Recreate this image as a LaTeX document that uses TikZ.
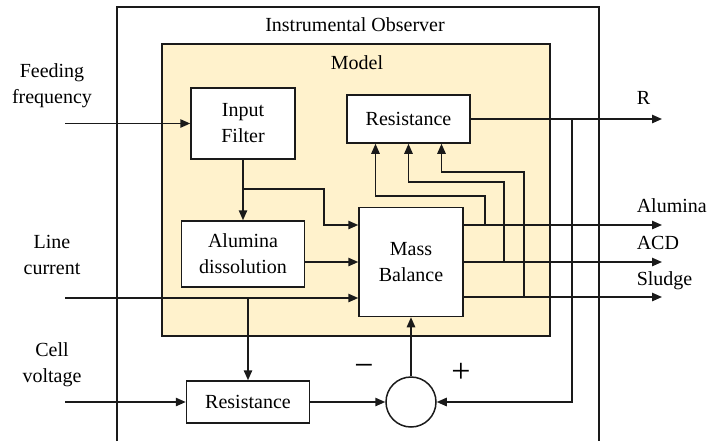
\documentclass[tikz,border=0pt]{standalone}
\usepackage{fontspec}
\setmainfont{Liberation Serif}
\usepackage{xcolor}
\definecolor{modelcream}{HTML}{FFF2CC}
\definecolor{frameink}{HTML}{1A1A1A}
\usetikzlibrary{positioning,arrows.meta,calc}

\begin{document}
\begin{tikzpicture}[x=0.5pt,y=-0.5pt,
    font=\fontsize{10}{13}\selectfont,
    line width=0.75pt, draw=frameink,
    blk/.style={draw=frameink, fill=white, align=center, inner sep=0pt},
    arr/.style={-{Triangle[length=5pt,width=4.2pt]}},
    lbl/.style={align=center, inner sep=0pt},
    sig/.style={font=\fontsize{17}{17}\selectfont, inner sep=0pt}]
    \useasboundingbox (0,0) rectangle (708,441);
    % frames
    \draw (117,441) -- (117,7) -- (599,7) -- (599,441);
    \filldraw[fill=modelcream] (162,44) rectangle (550,336);
    \node[lbl] (obs) at (355,25) {Instrumental Observer};
    \node[lbl] (mdl) at (357,63) {Model};
    % blocks
    \node[blk, minimum width=52pt, minimum height=35.5pt] (filt) at (243,123.5) {Input\\Filter};
    \node[blk, minimum width=61.5pt, minimum height=33pt] (diss) at (243,254) {Alumina\\dissolution};
    \node[blk, minimum width=61.5pt, minimum height=24pt] (rtop) at (408.5,119) {Resistance};
    \node[blk, minimum width=52pt, minimum height=54.5pt] (mb) at (411,262) {Mass\\Balance};
    \node[blk, minimum width=61.5pt, minimum height=21pt] (rbot) at (248,402) {Resistance};
    \node[blk, circle, minimum size=25pt] (sum) at (411,402) {};
    \node[sig] (minus) at (364,370) {−};
    \node[sig] (plus) at (461,373) {+};
    % inputs
    \node[lbl] (ffl) at (52,86) {Feeding\\frequency};
    \node[lbl] (lcl) at (52,255) {Line\\current};
    \node[lbl] (cvl) at (52,365) {Cell\\voltage};
    \coordinate (ffin) at (65,123.5);
    \coordinate (lcin) at (65,298);
    \coordinate (cvin) at (65,402);
    % outputs
    \coordinate (rout) at (662,119);
    \coordinate (aout) at (662,225);
    \coordinate (dout) at (662,262);
    \coordinate (sout) at (662,297);
    \node[lbl, anchor=west] (rl) at (636,98) {R};
    \node[lbl, anchor=west] (al) at (636,206) {Alumina};
    \node[lbl, anchor=west] (dl) at (636,243) {ACD};
    \node[lbl, anchor=west] (sl) at (636,281) {Sludge};
    % connectors
    \draw[arr] (ffin) -- (filt.west);
    \draw[arr] (filt.south) -- (diss.north);
    \draw[arr] (243,189) -| (324,225) -- ([yshift=18.5pt]mb.west);
    \draw[arr] (diss.east |- mb.west) -- (mb.west);
    \draw[arr] (lcin) -- ([yshift=-18pt]mb.west);
    \draw[arr] (248,298) -- (rbot.north);
    \draw[arr] (cvin) -- (rbot.west);
    \draw[arr] (rbot.east) -- (sum.west);
    \draw[arr] (sum.north) -- (mb.south);
    \draw[arr] (rtop.east) -- (rout);
    \draw[arr] (572,119) |- (sum.east);
    \draw[arr] ([yshift=18.5pt]mb.east) -- (aout);
    \draw[arr] (mb.east) -- (dout);
    \draw[arr] ([yshift=-17.5pt]mb.east) -- (sout);
    % feedback to resistance
    \draw[arr] (485,225) -- (485,196) -| ([xshift=-16.5pt]rtop.south);
    \draw[arr] (504,262) -- (504,182) -| (rtop.south);
    \draw[arr] (524,297) -- (524,172) -| ([xshift=16.5pt]rtop.south);
\end{tikzpicture}
\end{document}
